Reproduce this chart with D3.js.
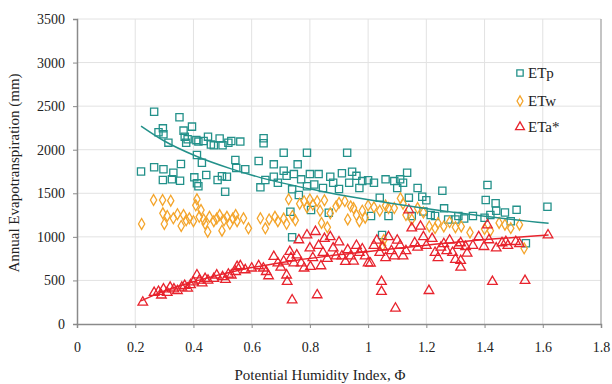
<!DOCTYPE html>
<html>
<head>
<meta charset="utf-8">
<script src="https://cdn.jsdelivr.net/npm/d3@7"></script>
<style>
html,body{margin:0;padding:0;background:#fff;}
svg{display:block;font-family:"Liberation Serif","Times New Roman",serif;}
</style>
</head>
<body>
<svg id="chart" width="612" height="384"></svg>
<script>
const xTicks = [0,0.2,0.4,0.6,0.8,1,1.2,1.4,1.6,1.8];
const yTicks = [0,500,1000,1500,2000,2500,3000,3500];
const seriesNames = ["ETp","ETw","ETa*"];

const etp = [[0.22,1750],[0.265,2436],[0.265,1798],[0.28,2200],[0.295,2245],[0.297,2177],[0.297,1775],[0.295,1652],[0.314,2081],[0.326,1660],[0.331,1737],[0.352,2372],[0.354,1644],[0.357,1836],[0.366,2219],[0.37,2150],[0.375,2080],[0.38,2120],[0.395,2265],[0.403,1683],[0.41,2110],[0.412,1939],[0.412,1614],[0.417,2093],[0.417,1580],[0.429,1851],[0.435,2100],[0.444,1710],[0.45,2150],[0.46,2060],[0.47,2050],[0.483,1652],[0.49,2130],[0.498,1695],[0.5,2050],[0.509,1518],[0.515,1690],[0.52,2080],[0.53,2100],[0.544,1882],[0.547,1790],[0.561,2093],[0.578,1775],[0.624,1870],[0.63,1568],[0.641,2131],[0.641,2074],[0.647,1652],[0.676,1832],[0.676,1690],[0.69,1620],[0.71,1966],[0.71,1759],[0.72,1700],[0.733,1289],[0.739,1545],[0.739,995],[0.745,1720],[0.758,1832],[0.762,1480],[0.77,1660],[0.79,1966],[0.79,1580],[0.8,1720],[0.804,1308],[0.815,1600],[0.83,1720],[0.845,1560],[0.865,1277],[0.87,1690],[0.88,1620],[0.9,1550],[0.91,1730],[0.928,1966],[0.935,1620],[0.945,1748],[0.96,1700],[0.97,1560],[0.98,1640],[1.0,1650],[1.01,1240],[1.02,1620],[1.04,1450],[1.048,1021],[1.06,1660],[1.07,1240],[1.09,1640],[1.1,1560],[1.11,1660],[1.12,1620],[1.134,1736],[1.14,1450],[1.15,1240],[1.17,1560],[1.186,1461],[1.19,1290],[1.2,1420],[1.215,1251],[1.23,1240],[1.255,1530],[1.261,1327],[1.275,1200],[1.3,1200],[1.31,1240],[1.33,1210],[1.36,1240],[1.4,1220],[1.404,1423],[1.41,1595],[1.42,1250],[1.438,1385],[1.44,1300],[1.47,1280],[1.49,1180],[1.51,1310],[1.542,926],[1.616,1346]];

const etw = [[0.222,1148],[0.263,1423],[0.294,1423],[0.322,1415],[0.295,1270],[0.3,1148],[0.31,1240],[0.331,1213],[0.345,1260],[0.358,1125],[0.366,1251],[0.375,1190],[0.386,1213],[0.4,1180],[0.408,1362],[0.412,1431],[0.42,1230],[0.426,1308],[0.435,1200],[0.44,1150],[0.449,1059],[0.455,1230],[0.47,1180],[0.48,1210],[0.49,1250],[0.498,1071],[0.505,1190],[0.515,1230],[0.525,1150],[0.535,1210],[0.545,1250],[0.55,1180],[0.572,1213],[0.589,1098],[0.63,1213],[0.647,1098],[0.66,1200],[0.68,1230],[0.69,1180],[0.71,1210],[0.72,1150],[0.727,1431],[0.74,1240],[0.75,1190],[0.765,1380],[0.78,1410],[0.79,1340],[0.8,1430],[0.81,1370],[0.825,1410],[0.835,1300],[0.84,1160],[0.85,1420],[0.86,1110],[0.87,1270],[0.89,1350],[0.9,1390],[0.92,1410],[0.93,1200],[0.94,1350],[0.95,1330],[0.96,1250],[0.97,1180],[0.98,1300],[0.99,1220],[1.0,1360],[1.02,1340],[1.04,1300],[1.054,964],[1.05,900],[1.06,1360],[1.07,1330],[1.09,1330],[1.111,1443],[1.12,1380],[1.13,1250],[1.15,1200],[1.17,1330],[1.19,1280],[1.21,1120],[1.23,1100],[1.24,1160],[1.26,1120],[1.28,1170],[1.3,1110],[1.32,1120],[1.35,1050],[1.4,1090],[1.42,1070],[1.45,1160],[1.47,1140],[1.49,1100],[1.52,1140],[1.536,868]];

const eta = [[0.226,249],[0.265,360],[0.28,372],[0.29,330],[0.297,400],[0.31,360],[0.32,420],[0.333,400],[0.345,380],[0.36,420],[0.37,440],[0.38,410],[0.39,450],[0.4,480],[0.412,562],[0.42,500],[0.43,470],[0.44,520],[0.45,500],[0.47,520],[0.48,560],[0.5,540],[0.51,510],[0.52,570],[0.53,560],[0.55,658],[0.545,600],[0.561,666],[0.578,620],[0.6,640],[0.624,666],[0.64,640],[0.65,600],[0.658,551],[0.676,773],[0.69,700],[0.7,650],[0.71,720],[0.722,486],[0.72,560],[0.731,830],[0.735,760],[0.739,275],[0.745,700],[0.755,790],[0.762,964],[0.77,700],[0.78,640],[0.79,1021],[0.8,870],[0.802,658],[0.81,760],[0.819,1059],[0.825,333],[0.83,900],[0.838,666],[0.845,820],[0.85,980],[0.86,750],[0.87,1000],[0.88,870],[0.89,780],[0.9,940],[0.91,780],[0.922,715],[0.93,850],[0.94,780],[0.95,720],[0.96,900],[0.97,820],[0.98,860],[0.99,780],[1.0,700],[1.008,697],[1.02,900],[1.03,960],[1.04,820],[1.046,486],[1.046,371],[1.05,880],[1.06,760],[1.07,1000],[1.08,840],[1.09,780],[1.094,180],[1.1,960],[1.11,900],[1.12,780],[1.13,840],[1.14,1308],[1.15,1100],[1.16,930],[1.17,880],[1.18,1120],[1.19,1000],[1.2,900],[1.209,382],[1.22,980],[1.23,820],[1.24,760],[1.25,880],[1.26,920],[1.27,840],[1.28,960],[1.29,820],[1.3,740],[1.31,900],[1.318,930],[1.318,727],[1.318,650],[1.335,887],[1.34,811],[1.36,900],[1.38,1000],[1.398,887],[1.41,1136],[1.415,964],[1.427,486],[1.44,870],[1.46,930],[1.473,944],[1.48,900],[1.507,944],[1.52,920],[1.539,497],[1.618,1021]];

const etpTrend = [[0.22,2272],[0.3,2100],[0.41,1925],[0.53,1780],[0.63,1680],[0.83,1530],[0.94,1460],[1.1,1375],[1.32,1270],[1.62,1155]];
const etaTrend = [[0.22,265],[0.3,380],[0.41,495],[0.56,620],[0.75,730],[0.94,810],[1.1,870],[1.32,945],[1.62,1020]];

const colors = {ETp:"#23918a", ETw:"#f4a52c", "ETa*":"#e8232d"};

const svg = d3.select("#chart");
const L = 77, R = 601, T = 19, B = 324;
const x = d3.scaleLinear().domain([0,1.8]).range([L,R]);
const y = d3.scaleLinear().domain([0,3500]).range([B,T]);

// gridlines
svg.append("g").selectAll("line").data(yTicks.filter(d=>d>0)).join("line")
  .attr("x1",L).attr("x2",R).attr("y1",d=>y(d)).attr("y2",d=>y(d))
  .attr("stroke","#e2e2e2").attr("stroke-width",1);
svg.append("g").selectAll("line").data(xTicks.filter(d=>d>0 && d<1.8)).join("line")
  .attr("y1",T).attr("y2",B).attr("x1",d=>x(d)).attr("x2",d=>x(d))
  .attr("stroke","#e2e2e2").attr("stroke-width",1);
// right border
svg.append("line").attr("x1",R).attr("x2",R).attr("y1",T).attr("y2",B)
  .attr("stroke","#b0b0b0").attr("stroke-width",1.5);

// axes
const xAxis = d3.axisBottom(x).tickValues(xTicks).tickSize(4).tickPadding(14).tickFormat(d=>d3.format("")(d));
const yAxis = d3.axisLeft(y).tickValues(yTicks).tickSize(4).tickPadding(8).tickFormat(d3.format("d"));
const gx = svg.append("g").attr("transform",`translate(0,${B})`).call(xAxis);
const gy = svg.append("g").attr("transform",`translate(${L},0)`).call(yAxis);
[gx,gy].forEach(g=>{
  g.select(".domain").attr("stroke","#8a8a8a").attr("stroke-width",1.5);
  g.selectAll(".tick line").attr("stroke","#8a8a8a");
  g.selectAll("text").attr("fill","#222").style("font-family","Liberation Serif, serif").style("font-size","14px");
});

const symSq = d3.symbol().type(d3.symbolSquare).size(52);
const symDi = d3.symbol().type(d3.symbolDiamond).size(34);
const symTr = d3.symbol().type(d3.symbolTriangle).size(40);

function plot(data, sym, color){
  svg.append("g").selectAll("path").data(data).join("path")
    .attr("d",sym)
    .attr("transform",d=>`translate(${x(d[0])},${y(d[1])})`)
    .attr("fill","none").attr("stroke",color).attr("stroke-width",1.3);
}
plot(etp, symSq, colors.ETp);
plot(etw, symDi, colors.ETw);
plot(eta, symTr, colors["ETa*"]);

const line = d3.line().x(d=>x(d[0])).y(d=>y(d[1])).curve(d3.curveMonotoneX);
svg.append("path").datum(etpTrend).attr("d",line).attr("fill","none")
  .attr("stroke",colors.ETp).attr("stroke-width",1.5);
svg.append("path").datum(etaTrend).attr("d",line).attr("fill","none")
  .attr("stroke",colors["ETa*"]).attr("stroke-width",1.5);

// legend
const legY = [73,101,127];
const syms = [d3.symbol().type(d3.symbolSquare).size(40), d3.symbol().type(d3.symbolDiamond).size(30), d3.symbol().type(d3.symbolTriangle).size(34)];
const lg = svg.append("g");
seriesNames.forEach((n,i)=>{
  lg.append("path").attr("d",syms[i]).attr("transform",`translate(520,${legY[i]})`)
    .attr("fill","none").attr("stroke",colors[n]).attr("stroke-width",1.3);
  lg.append("text").attr("x",528).attr("y",legY[i]+5).text(n)
    .style("font-size","15px").attr("fill","#222");
});

// axis titles
svg.append("text").attr("x",320).attr("y",380).attr("text-anchor","middle")
  .style("font-size","15px").attr("fill","#222").text("Potential Humidity Index, Φ");
svg.append("text").attr("transform","translate(19,173) rotate(-90)").attr("text-anchor","middle")
  .style("font-size","15px").attr("fill","#222").text("Annual Evapotranspiration (mm)");
</script>
</body>
</html>
